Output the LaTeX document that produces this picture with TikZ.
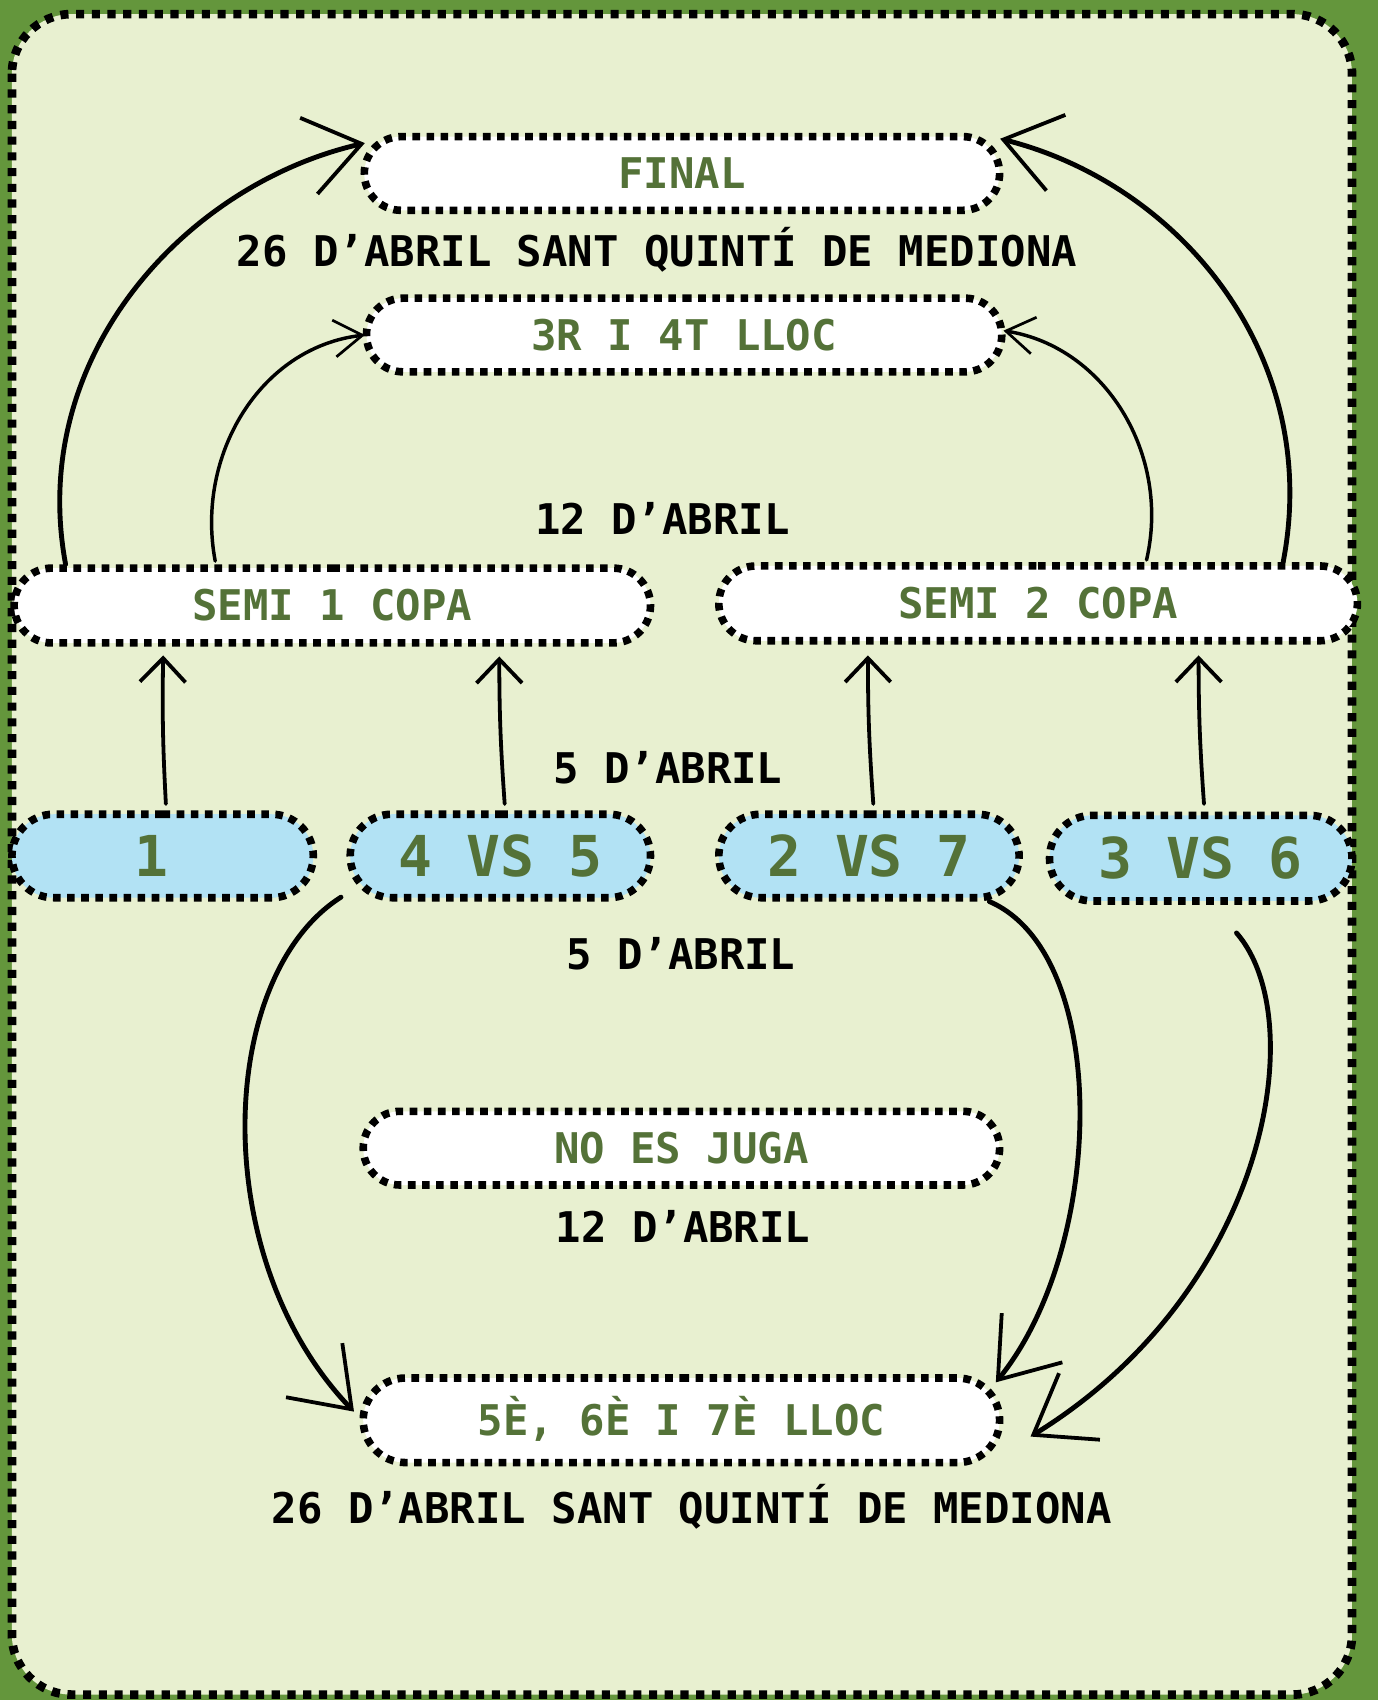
\documentclass[tikz,border=0pt]{standalone}
\usepackage{fontspec}
\newfontfamily\lblfont{DejaVu Sans Mono}
\usetikzlibrary{shapes.misc,arrows.meta,calc}
\definecolor{grass}{HTML}{64963C}
\definecolor{paper}{HTML}{E8F0D0}
\definecolor{skyb}{HTML}{B2E2F4}
\definecolor{txtgreen}{HTML}{547238}
\tikzset{
  box/.style={rounded rectangle, draw=black, line width=7pt, dash pattern=on 7pt off 6pt,
    fill=white, inner sep=0pt, text=txtgreen,
    font=\lblfont\bfseries\fontsize{39}{39}\selectfont, text height=28pt, text depth=0pt},
  bluebox/.style={box, fill=skyb, font=\lblfont\bfseries\fontsize{52}{52}\selectfont,
    text height=38pt, text depth=0pt},
  datelbl/.style={inner sep=0pt, text=black, font=\lblfont\bfseries\fontsize{39}{39}\selectfont,
    text height=28pt, text depth=0pt},
  link/.style={line width=4.5pt, line cap=round, draw=black},
  thinlink/.style={line width=3.2pt, line cap=round, draw=black},
  uplink/.style={line width=3.5pt, line cap=round, draw=black,
    -{Straight Barb[length=22pt,width=42pt,line width=3.5pt]}},
  bigtip/.style={-{Straight Barb[length=50pt,width=72pt,line width=3.5pt]}},
  smalltip/.style={-{Straight Barb[length=26pt,width=34pt,line width=2.5pt]}}
}
\begin{document}
\begin{tikzpicture}[x=1pt,y=-1pt]
  % background
  \fill[grass] (0,0) rectangle (1271,1568);
  \useasboundingbox (0,0) rectangle (1271,1568);
  \draw[fill=paper, line width=8pt, dash pattern=on 7.5pt off 7pt, rounded corners=55pt]
    (11,13) rectangle (1247,1563);

  % boxes
  \node[box, minimum width=586pt, minimum height=68pt] (final) at (629,160) {FINAL};
  \node[box, minimum width=586pt, minimum height=68pt] (p34) at (631,309) {3R I 4T LLOC};
  \node[box, minimum width=587pt, minimum height=69pt] (semi1) at (306.5,558.5) {SEMI 1 COPA};
  \node[box, minimum width=589pt, minimum height=69pt] (semi2) at (957.5,556.5) {SEMI 2 COPA};
  \node[bluebox, minimum width=278pt, minimum height=77pt] (b1) at (150,789.5) {\hspace*{-20pt}1};
  \node[bluebox, minimum width=277pt, minimum height=77pt] (b45) at (461.5,789.5) {4 VS 5};
  \node[bluebox, minimum width=277pt, minimum height=77pt] (b27) at (801.5,789.5) {2 VS 7};
  \node[bluebox, minimum width=279pt, minimum height=79pt] (b36) at (1107.5,791.5) {3 VS 6};
  \node[box, minimum width=587pt, minimum height=68pt] (noes) at (628.5,1059) {NO ES JUGA};
  \node[box, minimum width=587pt, minimum height=78pt] (p567) at (628.5,1310) {5È, 6È I 7È LLOC};

  % date labels
  \node[datelbl] (d1) at (606,232) {26 D’ABRIL SANT QUINTÍ DE MEDIONA};
  \node[datelbl] (d2) at (611,479) {12 D’ABRIL};
  \node[datelbl] (d3) at (616,709) {5 D’ABRIL};
  \node[datelbl] (d4) at (628,880) {5 D’ABRIL};
  \node[datelbl] (d5) at (630,1132) {12 D’ABRIL};
  \node[datelbl] (d6) at (638,1391) {26 D’ABRIL SANT QUINTÍ DE MEDIONA};

  % semis to final / 3r-4t
  \draw[link, bigtip] ($(semi1.north)+(-246,0)$) .. controls (25,330) and (170,170) .. ($(final.west)+(4,-28)$);
  \draw[thinlink, smalltip] ($(semi1.north)+(-108,-3)$) .. controls (180,420) and (240,320) .. ($(p34.west)+(2,0)$);
  \draw[thinlink, smalltip] ($(semi2.north)+(100,-2)$) .. controls (1080,420) and (1020,320) .. ($(p34.east)+(-2,-4)$);
  \draw[link, bigtip] ($(semi2.north)+(226,0)$) .. controls (1220,330) and (1090,170) .. ($(final.east)+(-3,-32)$);

  % first round to semis
  \draw[uplink] ($(b1.north)+(3,-6)$) to[bend left=2] ($(semi1.south)+(-156,8)$);
  \draw[uplink] ($(b45.north)+(4,-6)$) to[bend left=2] ($(semi1.south)+(154,9)$);
  \draw[uplink] ($(b27.north)+(4,-6)$) to[bend left=2] ($(semi2.south)+(-157,10)$);
  \draw[uplink] ($(b36.north)+(3,-7)$) to[bend left=2] ($(semi2.south)+(148,10)$);

  % losers to 5-6-7
  \draw[link, bigtip] ($(b45.west)+(-5,38)$) .. controls (200,900) and (190,1160) .. ($(p567.west)+(-5,-8)$);
  \draw[link, bigtip] ($(b27.east)+(-31,42)$) .. controls (1025,880) and (1020,1150) .. ($(p567.east)+(-7,-35)$);
  \draw[link, bigtip] ($(b36.south)+(33,26)$) .. controls (1210,940) and (1170,1190) .. ($(p567.east)+(25,15)$);
\end{tikzpicture}
\end{document}
